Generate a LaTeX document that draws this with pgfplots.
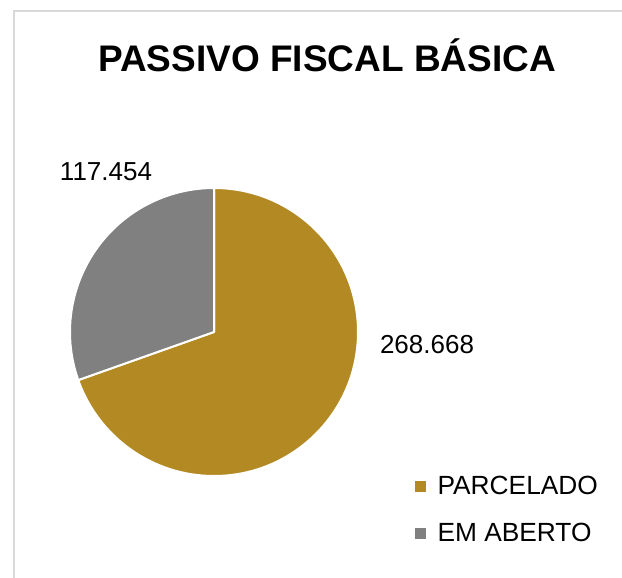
\documentclass[border=0pt]{standalone}
\usepackage{pgfplots}
\pgfplotsset{compat=1.18}
\usepackage{pgfplotstable}
\usepackage{fontspec}
\setmainfont{Liberation Sans}

\definecolor{ouro}{HTML}{B38923}
\definecolor{cinza}{HTML}{808080}
\definecolor{moldura}{HTML}{D9D9D9}

% valores do passivo fiscal (em milhares)
\pgfplotstableread[col sep=comma]{
categoria,valor
PARCELADO,268.668
EM ABERTO,117.454
}\passivo

\pgfplotstablegetelem{0}{valor}\of\passivo \let\vA\pgfplotsretval
\pgfplotstablegetelem{1}{valor}\of\passivo \let\vB\pgfplotsretval
\pgfmathsetmacro\fracA{\vA/(\vA+\vB)}
\pgfmathsetmacro\angA{90-360*\fracA}

\begin{document}
\begin{tikzpicture}
  \begin{axis}[
    at={(0,0)}, anchor=south west,
    scale only axis, width=622pt, height=578pt,
    xmin=0, xmax=622, ymin=0, ymax=578, y dir=reverse,
    hide axis, clip=false,
    legend style={draw=none, fill=none, at={(415/622,1-509.5/578)}, anchor=west,
      font=\fontsize{26.3}{28}\selectfont, row sep=25.5pt, inner sep=0pt,
      nodes={inner sep=1pt}},
    legend cell align=left,
    legend image code/.code={\fill (0pt,-5pt) rectangle (10pt,5pt); \path (21pt,0pt);},
    ]
    % moldura
    \draw[moldura, line width=1.5pt] (axis cs:14,630) -- (axis cs:14,11) -- (axis cs:640,11);
    % fatias
    \filldraw[fill=ouro, draw=white, line width=2pt, line join=round]
      (axis cs:214,332) -- ++(90:144pt) arc[start angle=90, end angle=\angA, radius=144pt] -- cycle;
    \filldraw[fill=cinza, draw=white, line width=2pt, line join=round]
      (axis cs:214,332) -- ++(\angA:144pt) arc[start angle=\angA, end angle=-270, radius=144pt] -- cycle;
    % rótulos
    \node[font=\fontsize{26}{28}\selectfont] at (axis cs:106,172) {117.454};
    \node[font=\fontsize{26}{28}\selectfont] at (axis cs:427,345) {268.668};
    \node[font=\bfseries\fontsize{37}{40}\selectfont] at (axis cs:327,55) {PASSIVO FISCAL BÁSICA};
    \addlegendimage{ouro}
    \addlegendentry{PARCELADO}
    \addlegendimage{cinza}
    \addlegendentry{EM ABERTO}
  \end{axis}
  \pgfresetboundingbox
  \path[use as bounding box] (0,0) rectangle (622pt,578pt);
\end{tikzpicture}
\end{document}
